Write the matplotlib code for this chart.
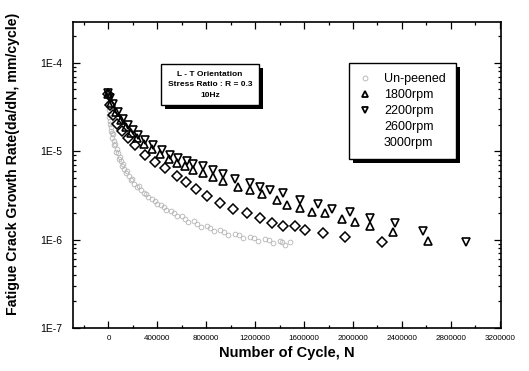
import matplotlib
matplotlib.use("Agg")
import math
import matplotlib.pyplot as plt
from matplotlib.lines import Line2D
from matplotlib.patches import Rectangle
from matplotlib.ticker import MultipleLocator, LogLocator, FuncFormatter, NullFormatter

plt.rcParams["font.family"] = ["Liberation Sans", "DejaVu Sans"]

# un-peened: dense band (read as three rows of points)
unpeened_n = [0, 0, 0, 5000, 8000, 12000, 18000, 33000, 49000, 65000, 90000,
              114000, 147000, 188000, 237000, 294000, 359000, 433000, 514000,
              604000, 702000, 808000, 914000, 1037000, 1159000, 1282000,
              1404000, 1486000,
              10000, 22000, 40000, 57000, 78000, 100000, 130000, 168000, 212000,
              265000, 326000, 396000, 473000, 559000, 653000, 755000, 861000,
              976000, 1098000, 1220000, 1343000, 1445000,
              3000, 15000, 28000, 47000, 68000, 92000, 120000, 155000, 196000,
              248000, 310000, 378000, 452000, 535000, 627000, 728000, 833000,
              945000, 1065000, 1190000, 1310000, 1420000]
unpeened_rate = [4.7e-5, 4.1e-5, 3.5e-5, 2.94e-5, 2.45e-5, 2.04e-5, 1.70e-5,
                 1.42e-5, 1.18e-5, 9.8e-6, 8.2e-6, 6.8e-6, 5.7e-6, 4.73e-6,
                 3.94e-6, 3.37e-6, 2.88e-6, 2.47e-6, 2.11e-6, 1.85e-6, 1.62e-6,
                 1.43e-6, 1.29e-6, 1.16e-6, 1.07e-6, 1.02e-6, 9.6e-7, 9.4e-7,
                 2.6e-5, 1.9e-5, 1.55e-5, 1.2e-5, 9.6e-6, 7.8e-6, 6.3e-6, 5.2e-6,
                 4.3e-6, 3.6e-6, 3.05e-6, 2.55e-6, 2.15e-6, 1.85e-6, 1.6e-6,
                 1.4e-6, 1.25e-6, 1.12e-6, 1.03e-6, 9.6e-7, 9.1e-7, 8.8e-7,
                 3.2e-5, 2.2e-5, 1.6e-5, 1.3e-5, 1.05e-5, 8.7e-6, 7.1e-6,
                 5.9e-6, 4.9e-6, 4.0e-6, 3.3e-6, 2.75e-6, 2.35e-6, 2.0e-6,
                 1.72e-6, 1.52e-6, 1.36e-6, 1.22e-6, 1.12e-6, 1.04e-6, 9.9e-7,
                 9.3e-7]

rpm1800_n = [0, 24000, 65000, 106000, 147000, 188000, 237000, 294000, 359000,
             424000, 498000, 563000, 629000, 694000, 776000, 857000, 939000,
             1061000, 1159000, 1257000, 1380000, 1461000, 1567000, 1665000,
             1771000, 1910000, 2016000, 2139000, 2327000, 2612000]
rpm1800_rate = [4.46e-5, 3.52e-5, 2.79e-5, 2.26e-5, 1.88e-5, 1.61e-5, 1.42e-5,
                1.21e-5, 1.06e-5, 9.3e-6, 8.2e-6, 7.4e-6, 6.8e-6, 6.1e-6,
                5.7e-6, 5.1e-6, 4.6e-6, 3.94e-6, 3.65e-6, 3.28e-6, 2.81e-6,
                2.47e-6, 2.28e-6, 2.06e-6, 2.0e-6, 1.71e-6, 1.58e-6, 1.43e-6,
                1.22e-6, 9.6e-7]

rpm2200_n = [0, 16000, 41000, 82000, 122000, 163000, 204000, 245000, 302000,
             367000, 441000, 506000, 571000, 645000, 694000, 776000, 857000,
             939000, 1037000, 1159000, 1241000, 1322000, 1428000, 1567000,
             1714000, 1829000, 1975000, 2139000, 2343000, 2571000, 2922000]
rpm2200_rate = [4.57e-5, 4.0e-5, 3.4e-5, 2.79e-5, 2.32e-5, 1.99e-5, 1.74e-5,
                1.53e-5, 1.34e-5, 1.18e-5, 1.03e-5, 9.1e-6, 8.4e-6, 7.8e-6,
                7.2e-6, 6.8e-6, 6.1e-6, 5.5e-6, 4.9e-6, 4.4e-6, 3.94e-6,
                3.65e-6, 3.37e-6, 2.81e-6, 2.53e-6, 2.22e-6, 2.06e-6, 1.76e-6,
                1.54e-6, 1.25e-6, 9.4e-7]

rpm2600_n = [0, 16000, 41000, 73000, 114000, 163000, 220000, 302000, 384000,
             465000, 563000, 637000, 718000, 808000, 914000, 1020000, 1135000,
             1241000, 1339000, 1429000, 1527000, 1608000, 1755000, 1935000,
             2237000]
rpm2600_rate = [4.46e-5, 3.34e-5, 2.58e-5, 2.04e-5, 1.70e-5, 1.42e-5, 1.18e-5,
                9.1e-6, 7.6e-6, 6.5e-6, 5.25e-6, 4.49e-6, 3.74e-6, 3.12e-6,
                2.6e-6, 2.22e-6, 2.0e-6, 1.76e-6, 1.54e-6, 1.43e-6, 1.43e-6,
                1.29e-6, 1.19e-6, 1.07e-6, 9.4e-7]

legend_labels = ["Un-peened", "1800rpm", "2200rpm", "2600rpm", "3000rpm"]
note_lines = ["L - T Orientation", "Stress Ratio : R = 0.3", "10Hz"]

fig = plt.figure(figsize=(5.29, 3.71), dpi=100)
ax = fig.add_axes([73 / 529, 43 / 371, 428 / 529, 306 / 371])

ax.plot(unpeened_n, unpeened_rate, ls="none", marker="o", ms=3.4, mfc="none",
        mec="#b4b4b4", mew=0.6)
ax.plot(rpm2600_n, rpm2600_rate, ls="none", marker="D", ms=5, mfc="none",
        mec="black", mew=1.1)
ax.plot(rpm1800_n, rpm1800_rate, ls="none", marker="^", ms=6, mfc="none",
        mec="black", mew=1.2)
ax.plot(rpm2200_n, rpm2200_rate, ls="none", marker="v", ms=6, mfc="none",
        mec="black", mew=1.2)

ax.set_yscale("log")
ax.set_xlim(-290000, 3210000)
ax.set_ylim(1e-7, 2.9e-4)

ax.xaxis.set_major_locator(MultipleLocator(400000))
ax.xaxis.set_minor_locator(MultipleLocator(200000))
ax.xaxis.set_major_formatter(FuncFormatter(lambda v, p: "%d" % v if v >= 0 else ""))
ax.yaxis.set_major_locator(LogLocator(base=10))
ax.yaxis.set_minor_locator(LogLocator(base=10, subs=range(2, 10)))
ax.yaxis.set_minor_formatter(NullFormatter())
ax.yaxis.set_major_formatter(FuncFormatter(lambda v, p: "1E%d" % round(math.log10(v))))

ax.tick_params(which="both", direction="in", top=True, right=True, width=0.9)
ax.tick_params(which="major", length=5)
ax.tick_params(which="minor", length=2.5)
ax.tick_params(axis="x", labelsize=5.8, pad=5)
ax.tick_params(axis="y", labelsize=7.5, pad=8)
for s in ax.spines.values():
    s.set_linewidth(1.2)

ax.set_xlabel("Number of Cycle, N", fontsize=10.5, fontweight="bold", labelpad=3)
ax.set_ylabel("Fatigue Crack Growth Rate(da/dN, mm/cycle)", fontsize=10.2,
              fontweight="bold")
ax.yaxis.set_label_coords(-0.125, 0.535)

note = ax.text(0.32, 0.795, "\n".join(note_lines), transform=ax.transAxes,
               ha="center", va="center", fontsize=6, fontweight="bold",
               linespacing=1.7, zorder=6,
               bbox=dict(boxstyle="square,pad=0.8", fc="white", ec="black", lw=1.0))

handles = [
    Line2D([], [], ls="none", marker="o", ms=3.5, mfc="none", mec="#b0b0b0", mew=0.6),
    Line2D([], [], ls="none", marker="^", ms=5, mfc="none", mec="black", mew=1.3),
    Line2D([], [], ls="none", marker="v", ms=5, mfc="none", mec="black", mew=1.3),
    Line2D([], [], ls="none"),
    Line2D([], [], ls="none"),
]
leg = ax.legend(handles, legend_labels, loc="upper left",
                bbox_to_anchor=(276 / 428, 1 - 41 / 306), fontsize=9,
                frameon=True, fancybox=False, edgecolor="black", framealpha=1,
                borderpad=0.8, labelspacing=0.32, handlelength=1.0,
                handletextpad=1.0, borderaxespad=0)
leg.get_frame().set_linewidth(1.0)
leg.set_zorder(6)

# drop shadows behind the two boxes
fig.canvas.draw()
r = fig.canvas.get_renderer()
for art in (leg.get_frame(), note.get_bbox_patch()):
    bb = art.get_window_extent(r)
    ax.add_patch(Rectangle((bb.x0 + 4, bb.y0 - 4), bb.width, bb.height,
                           transform=None, fc="black", ec="none", zorder=5.5))

fig.savefig("out.png", dpi=100)
